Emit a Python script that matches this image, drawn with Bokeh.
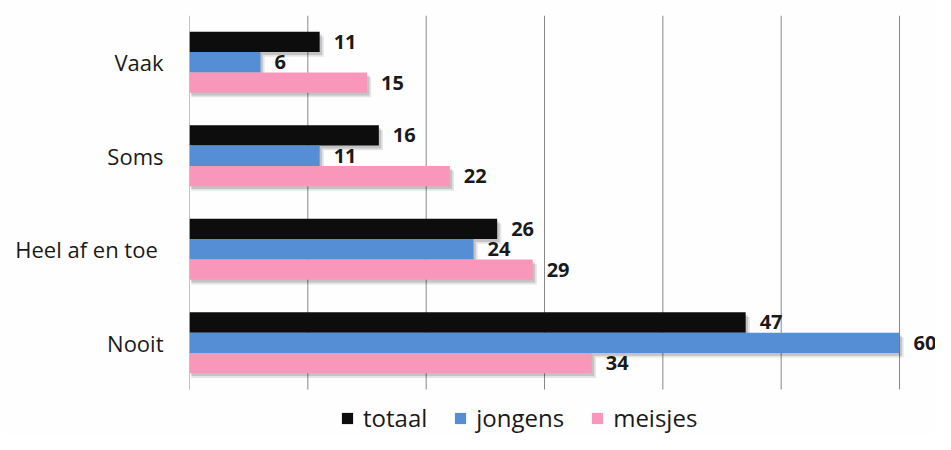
from bokeh.plotting import figure
from bokeh.models import ColumnDataSource, Range1d, FixedTicker, Legend, LegendItem
from bokeh.transform import dodge
from bokeh.core.properties import value
from bokeh.embed import file_html
from bokeh.resources import INLINE

categories = ["Vaak", "Soms", "Heel  af en toe", "Nooit"]
totaal = [11, 16, 26, 47]
jongens = [6, 11, 24, 60]
meisjes = [15, 22, 29, 34]
series_names = ["totaal", "jongens", "meisjes"]
series_colors = ["#0d0d0d", "#558ed5", "#f997ba"]
grid_ticks = [0, 10, 20, 30, 40, 50, 60]

n = len(categories)
ypos = [n - i - 0.5 for i in range(n)]  # category slots, first at top

data = dict(cat=categories, ypos=ypos, totaal=totaal, jongens=jongens, meisjes=meisjes)
for name in series_names:
    data[name + "_lbl"] = [str(v) for v in data[name]]
src = ColumnDataSource(data)

p = figure(width=935, height=434,
           x_range=Range1d(0, 63.04), y_range=Range1d(-0.481, n),
           x_axis_location=None,
           output_backend="svg", toolbar_location=None,
           min_border_left=189, min_border_right=0,
           min_border_top=15, min_border_bottom=0)
p.outline_line_color = None
p.background_fill_color = "#fefefe"
p.border_fill_color = "#fefefe"
p.xgrid.visible = False
p.ygrid.visible = False

# vertical grid lines over the category area
p.segment(x0=grid_ticks, x1=grid_ticks, y0=[0] * len(grid_ticks), y1=[n] * len(grid_ticks),
          line_color="#888888", line_width=1)

bar_h = 0.217
offsets = [bar_h, 0.0, -bar_h]

# soft drop shadows
for name, off in zip(series_names, offsets):
    for dx, dy, a in [(0.35, -0.05, 0.10), (0.2, -0.03, 0.14)]:
        p.hbar(y=dodge("ypos", off + dy), left=0.15, right=dodge(name, dx),
               height=bar_h, source=src, fill_color="#000000", fill_alpha=a,
               line_color=None)

renderers = []
for name, off, col in zip(series_names, offsets, series_colors):
    r = p.hbar(y=dodge("ypos", off), left=0, right=name, height=bar_h,
               source=src, fill_color=col, line_color=None)
    renderers.append(r)
    p.text(x=name, y=dodge("ypos", off), text=name + "_lbl", source=src,
           x_offset=14, text_baseline="middle", text_align="left",
           text_font=value("Open Sans"), text_font_size="20px",
           text_font_style="bold", text_color="#1a1a1a")

p.yaxis.ticker = FixedTicker(ticks=ypos)
p.yaxis.major_label_overrides = {y: c for y, c in zip(ypos, categories)}
p.yaxis.axis_line_color = None
p.yaxis.major_tick_line_color = None
p.yaxis.minor_tick_line_color = None
p.yaxis.major_tick_out = 0
p.yaxis.major_tick_in = 0
p.yaxis.major_label_standoff = 26
p.yaxis.major_label_text_font = "Open Sans"
p.yaxis.major_label_text_font_size = "22px"
p.yaxis.major_label_text_color = "#1a1a1a"

legend = Legend(items=[LegendItem(label=s, renderers=[r]) for s, r in zip(series_names, renderers)],
                orientation="horizontal", location=(151, 0),
                glyph_width=14, glyph_height=14, label_standoff=9, spacing=26,
                padding=0, margin=0, border_line_color=None, background_fill_alpha=0,
                label_text_font="Open Sans", label_text_font_size="24px",
                label_text_color="#1a1a1a")
p.add_layout(legend, "center")

open("out.html", "w").write(file_html(p, INLINE))
